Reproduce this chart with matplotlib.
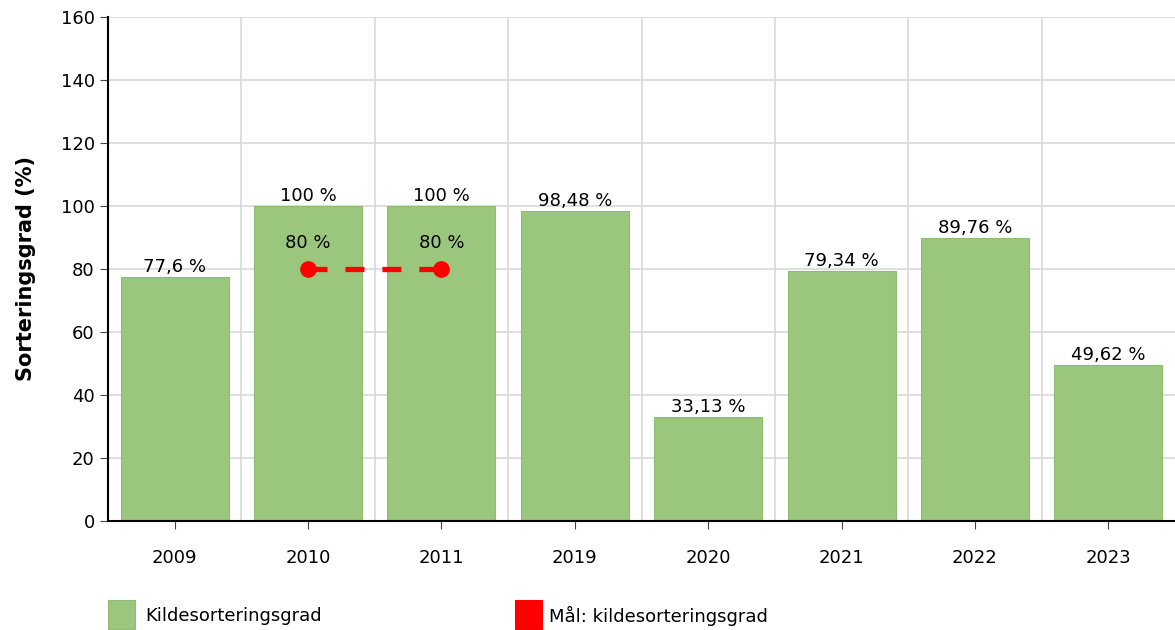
import matplotlib
matplotlib.use("Agg")
import matplotlib.pyplot as plt
import numpy as np

# Data
years = ["2009", "2010", "2011", "2019", "2020", "2021", "2022", "2023"]
grad = [77.6, 100, 100, 98.48, 33.13, 79.34, 89.76, 49.62]
grad_labels = ["77,6 %", "100 %", "100 %", "98,48 %", "33,13 %", "79,34 %", "89,76 %", "49,62 %"]
maal_years = ["2010", "2011"]
maal = [80, 80]
maal_labels = ["80 %", "80 %"]

plt.rcParams['font.family'] = ['DejaVu Sans']

fig = plt.figure(figsize=(11.75, 6.3), dpi=100)
ax = fig.add_axes([108/1175, 1 - 521/630, 1067/1175, 504/630])

x = np.arange(len(years))
bar_color = "#9bc67e"
ax.bar(x, grad, width=0.81, color=bar_color, edgecolor="#8fbc72", linewidth=0.8, zorder=2)
for xi, v, lab in zip(x, grad, grad_labels):
    ax.text(xi, v + 0.3, lab, ha="center", va="bottom", fontsize=13, zorder=4)

mx = [years.index(y) for y in maal_years]
ax.plot(mx, maal, color="red", linestyle=(0, (3.6, 3.4)), linewidth=3.8,
        marker="o", markersize=11, zorder=3)
for xi, v, lab in zip(mx, maal, maal_labels):
    ax.text(xi, v + 5.5, lab, ha="center", va="bottom", fontsize=13, zorder=4)

ax.set_xlim(-0.5, len(years) - 0.5)
ax.set_ylim(0, 160)
ax.set_yticks(np.arange(0, 161, 20))
ax.set_xticks(x)
ax.set_xticklabels(years)
ax.set_xticks(np.arange(0.5, len(years) - 0.5, 1), minor=True)
ax.tick_params(axis="x", which="minor", length=0)
ax.tick_params(axis="both", which="major", labelsize=13, length=6, color="#444444")
ax.tick_params(axis="x", which="major", pad=14)
ax.grid(axis="y", color="#d9d9d9", linewidth=1.2, zorder=0)
ax.grid(axis="x", which="minor", color="#d9d9d9", linewidth=1.2, zorder=0)
ax.set_axisbelow(True)

for s in ["top", "right"]:
    ax.spines[s].set_visible(False)
ax.spines["left"].set_linewidth(1.5)
ax.spines["bottom"].set_linewidth(1.5)

ax.set_ylabel("Sorteringsgrad (%)", fontsize=15, fontweight="bold", labelpad=18)

# Legend at bottom
fig.patches.append(plt.Rectangle((108/1175, 1/630), 27/1175, 29/630,
                                 transform=fig.transFigure, facecolor=bar_color,
                                 edgecolor="#8fbc72", linewidth=0.8))
fig.text(145/1175, 1 - 616/630, "Kildesorteringsgrad", fontsize=13, va="center")
fig.patches.append(plt.Rectangle((515/1175, 1/630), 27/1175, 29/630,
                                 transform=fig.transFigure, facecolor="red",
                                 edgecolor="red", linewidth=0.8))
fig.text(549/1175, 1 - 616/630, "Mål: kildesorteringsgrad", fontsize=13, va="center")

fig.savefig("out.png", dpi=100)
